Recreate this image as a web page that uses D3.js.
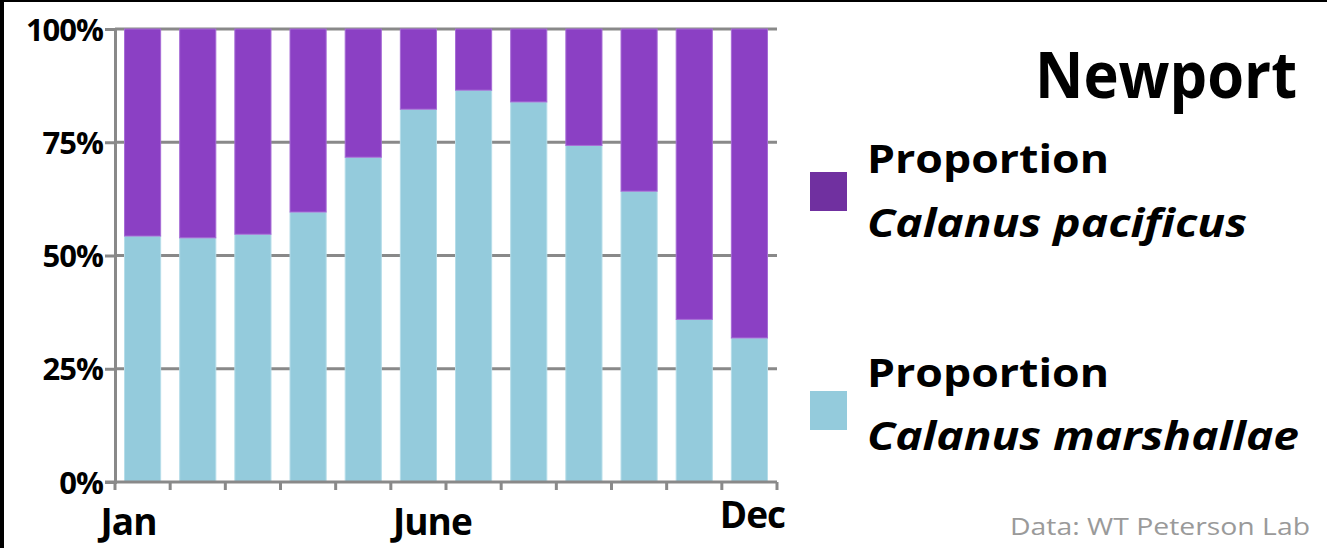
<!DOCTYPE html>
<html>
<head>
<meta charset="utf-8">
<script src="https://cdn.jsdelivr.net/npm/d3@7"></script>
<style>
  html, body { margin: 0; padding: 0; background: #fff; }
  svg { display: block; }
</style>
</head>
<body>
<svg id="chart" width="1327" height="548"></svg>
<script>
// Monthly share of two Calanus species at Newport
const months = ["Jan","Feb","Mar","Apr","May","Jun","Jul","Aug","Sep","Oct","Nov","Dec"];
const marshallae = [0.543, 0.539, 0.547, 0.596, 0.717, 0.823, 0.865, 0.839, 0.743, 0.642, 0.359, 0.318];
const pacificus = marshallae.map(v => 1 - v);
const yTicks = [0, 0.25, 0.5, 0.75, 1];
const xLabels = [
  { month: "Jan", text: "Jan", dx: -14, dy: 0 },
  { month: "Jun", text: "June", dx: 14, dy: 0 },
  { month: "Dec", text: "Dec", dx: 3, dy: -7 }
];
const seriesNames = ["Calanus pacificus", "Calanus marshallae"];

const colPac = "#8b40c4";
const colPacKey = "#7030a0";
const colMar = "#94cbdc";
const grid = "#898989";
const font = "'Open Sans', 'Noto Sans', sans-serif";

const svg = d3.select("#chart");
const W = 1327, H = 548;

// frame edges
svg.append("rect").attr("x", 0).attr("y", 0).attr("width", W).attr("height", 2).attr("fill", "#000");
svg.append("rect").attr("x", 0).attr("y", 0).attr("width", 4).attr("height", H).attr("fill", "#000");

const plot = { left: 115, right: 777, top: 29, bottom: 482 };

const x = d3.scaleBand()
  .domain(months)
  .range([plot.left, plot.right])
  .paddingInner(0.345)
  .paddingOuter(0.1725);

const y = d3.scaleLinear().domain([0, 1]).range([plot.bottom, plot.top]);

// horizontal gridlines
svg.append("g").selectAll("line")
  .data(yTicks.filter(d => d > 0))
  .join("line")
  .attr("x1", plot.left).attr("x2", plot.right)
  .attr("y1", d => y(d)).attr("y2", d => y(d))
  .attr("stroke", grid).attr("stroke-width", 3);

// stacked bars
const stacked = months.map((m, i) => ({ month: m, mar: marshallae[i], pac: pacificus[i] }));
const bars = svg.append("g");
bars.selectAll("rect.mar")
  .data(stacked)
  .join("rect")
  .attr("class", "mar")
  .attr("x", d => x(d.month))
  .attr("width", x.bandwidth())
  .attr("y", d => y(d.mar))
  .attr("height", d => y(0) - y(d.mar))
  .attr("fill", colMar)
  .attr("stroke", "#b5dde9").attr("stroke-width", 1);
bars.selectAll("rect.pac")
  .data(stacked)
  .join("rect")
  .attr("class", "pac")
  .attr("x", d => x(d.month))
  .attr("width", x.bandwidth())
  .attr("y", d => y(d.mar + d.pac))
  .attr("height", d => y(d.mar) - y(d.mar + d.pac))
  .attr("fill", colPac)
  .attr("stroke", "#a66cd6").attr("stroke-width", 1);

// y axis
const yAxis = svg.append("g")
  .attr("transform", `translate(${plot.left},0)`)
  .call(d3.axisLeft(y).tickValues(yTicks).tickFormat(d3.format(".0%")).tickSize(10).tickPadding(2));
yAxis.select(".domain").attr("stroke", grid).attr("stroke-width", 3);
yAxis.selectAll(".tick line").attr("stroke", grid).attr("stroke-width", 3);
yAxis.selectAll(".tick text")
  .attr("font-family", font).attr("font-weight", 700).attr("font-size", 31)
  .attr("letter-spacing", -1)
  .attr("fill", "#000").attr("dy", "0.36em");

// x axis with boundary ticks
const xBase = svg.append("g");
xBase.append("line")
  .attr("x1", plot.left - 10).attr("x2", plot.right)
  .attr("y1", y(0)).attr("y2", y(0))
  .attr("stroke", grid).attr("stroke-width", 3);
const step = x.step();
xBase.selectAll("line.tick")
  .data(d3.range(months.length + 1))
  .join("line")
  .attr("class", "tick")
  .attr("x1", i => plot.left + i * step).attr("x2", i => plot.left + i * step)
  .attr("y1", y(0)).attr("y2", y(0) + 8)
  .attr("stroke", grid).attr("stroke-width", 3);

svg.append("g").selectAll("text")
  .data(xLabels)
  .join("text")
  .attr("x", d => x(d.month) + x.bandwidth() / 2 + d.dx)
  .attr("y", 535)
  .attr("dy", d => d.dy)
  .attr("text-anchor", "middle")
  .attr("font-family", font).attr("font-weight", 700).attr("font-size", 37)
  .attr("letter-spacing", -1)
  .attr("fill", "#000")
  .text(d => d.text);

// title
svg.append("text")
  .attr("x", 1297).attr("y", 98)
  .attr("text-anchor", "end")
  .attr("font-family", font).attr("font-weight", 700).attr("font-size", 64)
  .attr("textLength", 262).attr("lengthAdjust", "spacingAndGlyphs")
  .attr("fill", "#000")
  .text("Newport");

// legend
const legend = [
  { name: seriesNames[0], color: colPacKey, sy: 172, l1: 173, l2: 237, w2: 380 },
  { name: seriesNames[1], color: colMar, sy: 391, l1: 387, l2: 450, w2: 432 }
];
const lg = svg.append("g");
legend.forEach(d => {
  lg.append("rect").attr("x", 810).attr("y", d.sy).attr("width", 37).attr("height", 39).attr("fill", d.color);
  lg.append("text").attr("x", 867).attr("y", d.l1)
    .attr("font-family", font).attr("font-weight", 700).attr("font-size", 39)
    .attr("textLength", 242).attr("lengthAdjust", "spacingAndGlyphs")
    .attr("fill", "#000").text("Proportion");
  lg.append("text").attr("x", 867).attr("y", d.l2)
    .attr("font-family", font).attr("font-weight", 700).attr("font-style", "italic").attr("font-size", 39)
    .attr("textLength", d.w2).attr("lengthAdjust", "spacingAndGlyphs")
    .attr("fill", "#000").text(d.name);
});

// source note
svg.append("text")
  .attr("x", 1310).attr("y", 535)
  .attr("text-anchor", "end")
  .attr("font-family", font).attr("font-size", 24)
  .attr("textLength", 300).attr("lengthAdjust", "spacingAndGlyphs")
  .attr("fill", "#9a9a9a")
  .text("Data: WT Peterson Lab");
</script>
</body>
</html>
